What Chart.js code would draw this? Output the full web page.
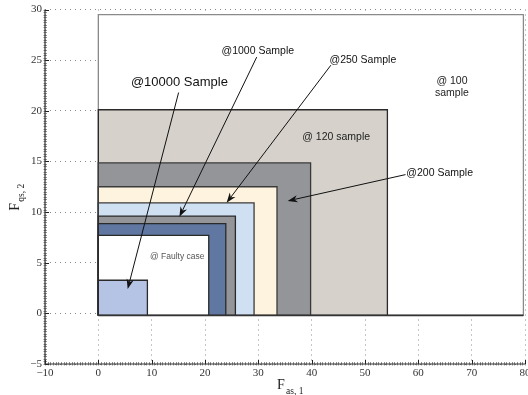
<!DOCTYPE html>
<html>
<head>
<meta charset="utf-8">
<script src="https://cdn.jsdelivr.net/npm/chart.js@4.4.1/dist/chart.umd.min.js"></script>
<style>
  html, body { margin: 0; padding: 0; background: #fff; }
  canvas { display: block; }
</style>
</head>
<body>
<canvas id="c" width="528" height="395"></canvas>
<script>
// ---- data ----
const xTicks = [-10, 0, 10, 20, 30, 40, 50, 60, 70, 80];
const yTicks = [-5, 0, 5, 10, 15, 20, 25, 30];

// nested regions (smallest first, drawn on top)
const regionNames   = ['@10000 Sample', '@ Faulty case', 'region 7', 'region 6', '@1000 Sample', '@250 Sample', '@200 Sample', '@ 120 sample', '@ 100 sample'];
const regionWidths  = [9.2, 20.7, 23.9, 25.7, 29.2, 33.5, 39.8, 54.2, 79.7];
const regionHeights = [3.27, 7.7, 8.85, 9.6, 10.9, 12.5, 14.85, 20.1, 29.5];
const regionBase = -0.2;

// annotation texts
const labelTexts = ['@10000 Sample', '@1000 Sample', '@250 Sample', '@ 120 sample', '@ 100', 'sample', '@200 Sample', '@ Faulty case'];
const labelX     = [15.2, 29.9, 49.6, 44.6, 66.3, 66.3, 64.0, 14.8];
const labelY     = [22.8, 25.9, 25.0, 17.4, 22.9, 21.7, 13.8, 5.57];

// arrows
const arrowFromX = [15.05, 29.7, 43.6, 57.6];
const arrowFromY = [21.8, 25.3, 24.5, 13.7];
const arrowToX   = [5.5, 15.2, 24.05, 35.5];
const arrowToY   = [2.4, 9.53, 10.92, 11.1];

// ---- styles ----
const regionFills   = ['#b5c4e5', '#ffffff', '#5f77a1', '#939598', '#cfe0f3', '#fef3de', '#939598', '#d6d2cb', '#ffffff'];
const regionBorders = ['#2a2a2a', '#2a2a2a', '#2a2a2a', '#2a2a2a', '#3a3a3a', '#3a3a3a', '#3a3a3a', '#2a2a2a', '#8a8a8a'];
const labelSizes    = [13, 10.5, 10.5, 10.5, 10.5, 10.5, 10.5, 8.5];
const labelColors   = ['#111', '#111', '#111', '#222', '#222', '#222', '#111', '#555'];

const datasets = regionNames.map((name, i) => ({
  label: name,
  data: [
    {x: 0, y: regionBase},
    {x: 0, y: regionHeights[i]},
    {x: regionWidths[i], y: regionHeights[i]},
    {x: regionWidths[i], y: regionBase},
    {x: 0, y: regionBase}
  ],
  fill: false,
  backgroundColor: regionFills[i],
  borderColor: regionBorders[i],
  borderWidth: 1.3,
  pointRadius: 0,
  tension: 0
}));

// fills each region polygon from the library-computed point positions
const regionFill = {
  id: 'regionFill',
  beforeDatasetDraw(chart, args) {
    const meta = args.meta;
    const ds = chart.data.datasets[args.index];
    const pts = meta.data;
    if (!pts || !pts.length) return;
    const ctx = chart.ctx;
    ctx.save();
    ctx.fillStyle = ds.backgroundColor;
    ctx.beginPath();
    pts.forEach((p, k) => { if (k === 0) ctx.moveTo(p.x, p.y); else ctx.lineTo(p.x, p.y); });
    ctx.closePath();
    ctx.fill();
    ctx.restore();
  }
};

const decor = {
  id: 'decor',
  afterDatasetsDraw(chart) {
    const ctx = chart.ctx;
    const xs = chart.scales.x, ys = chart.scales.y;
    ctx.save();
    // baseline of the regions (dark, as in the reference)
    ctx.strokeStyle = '#333';
    ctx.lineWidth = 1.6;
    ctx.beginPath();
    ctx.moveTo(xs.getPixelForValue(0), ys.getPixelForValue(regionBase));
    ctx.lineTo(xs.getPixelForValue(regionWidths[regionWidths.length - 1]), ys.getPixelForValue(regionBase));
    ctx.stroke();
    // minor ticks
    ctx.strokeStyle = '#777';
    ctx.lineWidth = 0.8;
    ctx.beginPath();
    for (let v = xTicks[0]; v <= xTicks[xTicks.length - 1] + 1e-9; v += 0.5) {
      const p = Math.round(xs.getPixelForValue(v)) + 0.5;
      ctx.moveTo(p, ys.bottom - 2); ctx.lineTo(p, ys.bottom + 1.5);
    }
    for (let v = yTicks[0]; v <= yTicks[yTicks.length - 1] + 1e-9; v += 0.25) {
      const p = Math.round(ys.getPixelForValue(v)) + 0.5;
      ctx.moveTo(xs.left - 1.5, p); ctx.lineTo(xs.left + 2, p);
    }
    ctx.stroke();
    // major ticks
    ctx.strokeStyle = '#222';
    ctx.lineWidth = 1;
    ctx.beginPath();
    xTicks.forEach(v => {
      const p = Math.round(xs.getPixelForValue(v)) + 0.5;
      ctx.moveTo(p, ys.bottom); ctx.lineTo(p, ys.bottom - 4);
    });
    yTicks.forEach(v => {
      const p = Math.round(ys.getPixelForValue(v)) + 0.5;
      ctx.moveTo(xs.left, p); ctx.lineTo(xs.left + 4, p);
    });
    ctx.stroke();
    // axis lines
    ctx.strokeStyle = '#333';
    ctx.lineWidth = 1.2;
    ctx.beginPath();
    ctx.moveTo(xs.left, ys.top); ctx.lineTo(xs.left, ys.bottom);
    ctx.lineTo(xs.right, ys.bottom);
    ctx.stroke();

    // arrows
    ctx.strokeStyle = '#111';
    ctx.fillStyle = '#111';
    ctx.lineWidth = 1;
    for (let i = 0; i < arrowFromX.length; i++) {
      const x1 = xs.getPixelForValue(arrowFromX[i]), y1 = ys.getPixelForValue(arrowFromY[i]);
      const x2 = xs.getPixelForValue(arrowToX[i]), y2 = ys.getPixelForValue(arrowToY[i]);
      const a = Math.atan2(y2 - y1, x2 - x1);
      const L = 10, W = 3.6;
      const bx = x2 - L * Math.cos(a), by = y2 - L * Math.sin(a);
      ctx.beginPath();
      ctx.moveTo(x1, y1); ctx.lineTo(bx + 3 * Math.cos(a), by + 3 * Math.sin(a));
      ctx.stroke();
      ctx.beginPath();
      ctx.moveTo(x2, y2);
      ctx.lineTo(bx + W * Math.sin(a), by - W * Math.cos(a));
      ctx.lineTo(bx + 3 * Math.cos(a), by + 3 * Math.sin(a));
      ctx.lineTo(bx - W * Math.sin(a), by + W * Math.cos(a));
      ctx.closePath();
      ctx.fill();
    }
    // labels
    ctx.textAlign = 'center';
    ctx.textBaseline = 'middle';
    labelTexts.forEach((t, i) => {
      ctx.font = labelSizes[i] + 'px "Liberation Sans", Arial, sans-serif';
      ctx.fillStyle = labelColors[i];
      ctx.fillText(t, xs.getPixelForValue(labelX[i]), ys.getPixelForValue(labelY[i]));
    });

    // axis titles
    ctx.fillStyle = '#222';
    ctx.textAlign = 'left';
    ctx.textBaseline = 'alphabetic';
    const cx = (xs.getPixelForValue(30) + xs.getPixelForValue(40)) / 2;
    ctx.font = '14px "Liberation Serif", "Times New Roman", serif';
    ctx.fillText('F', cx - 8, 389);
    ctx.font = '9.5px "Liberation Serif", "Times New Roman", serif';
    ctx.fillText('as, 1', cx + 1, 394);
    ctx.save();
    ctx.translate(19, (ys.getPixelForValue(15) + ys.getPixelForValue(10)) / 2 + 2);
    ctx.rotate(-Math.PI / 2);
    ctx.font = '14px "Liberation Serif", "Times New Roman", serif';
    ctx.fillText('F', -22, 0);
    ctx.font = '9.5px "Liberation Serif", "Times New Roman", serif';
    ctx.fillText('qs, 2', -13, 5);
    ctx.restore();
    ctx.restore();
  }
};

const tickFont = {family: '"Liberation Serif", "Times New Roman", serif', size: 11};
const minusFmt = v => String(v).replace('-', '\u2212');

function fitter(kind) {
  return function(s) {
    if (kind === 'x') s.height = 31; else s.width = 45;
    s.paddingLeft = 0; s.paddingRight = 0; s.paddingTop = 0; s.paddingBottom = 0;
  };
}

new Chart(document.getElementById('c'), {
  type: 'line',
  data: {datasets},
  options: {
    responsive: false,
    animation: false,
    devicePixelRatio: 1,
    layout: {padding: {top: 9.5, right: 3, left: 0, bottom: 0}},
    plugins: {legend: {display: false}, tooltip: {enabled: false}},
    scales: {
      x: {
        type: 'linear', min: -10, max: 80,
        afterBuildTicks: s => { s.ticks = xTicks.map(v => ({value: v})); },
        afterFit: fitter('x'),
        ticks: {font: tickFont, color: '#333', padding: 3, maxRotation: 0, autoSkip: false, callback: minusFmt},
        grid: {color: '#8a8a8a', lineWidth: 1, drawTicks: false},
        border: {display: false, dash: [1, 4]}
      },
      y: {
        type: 'linear', min: -5, max: 30,
        afterBuildTicks: s => { s.ticks = yTicks.map(v => ({value: v})); },
        afterFit: fitter('y'),
        ticks: {font: tickFont, color: '#333', padding: 3, autoSkip: false, callback: minusFmt},
        grid: {color: '#8a8a8a', lineWidth: 1, drawTicks: false},
        border: {display: false, dash: [1, 4]}
      }
    }
  },
  plugins: [regionFill, decor]
});
</script>
</body>
</html>
